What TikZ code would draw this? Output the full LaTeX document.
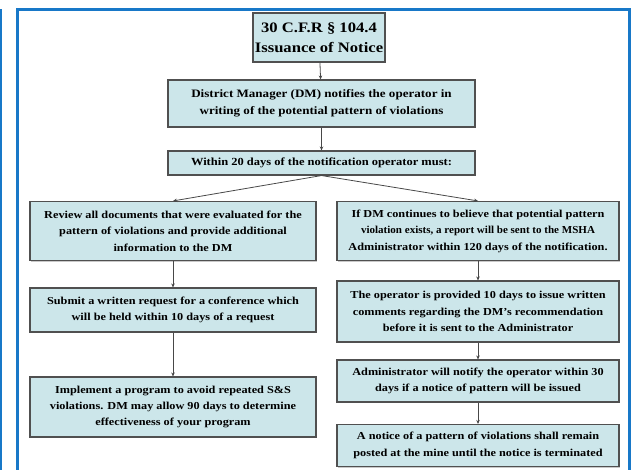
\documentclass[tikz,border=0pt]{standalone}
\usepackage{fontspec}
\usepackage{graphicx}
\setmainfont{Liberation Serif}[FakeStretch=1.15]
\usetikzlibrary{arrows.meta,shadows}
\definecolor{frameblue}{RGB}{24,120,200}
\definecolor{boxfill}{RGB}{204,230,234}
\definecolor{boxline}{RGB}{80,80,80}
\tikzset{
  box/.style={draw=boxline, line width=1.1pt, fill=boxfill, align=center, inner sep=0pt,
    font=\bfseries\fontsize{10.7}{16.5}\selectfont,
    drop shadow={shadow xshift=1.2pt, shadow yshift=-1.2pt, fill=gray!60, opacity=0.7}},
  conn/.style={draw=boxline!90!black, line width=0.8pt, -{Stealth[length=4pt,width=3.5pt]}}
}
\begin{document}
\begin{tikzpicture}[x=1bp,y=-1bp]
\useasboundingbox (0,0) rectangle (637,470);
\draw[frameblue, line width=3pt] (17.5,475) |- (629.5,9.5) -- (629.5,475);
\draw[frameblue, line width=3pt] (1,475) -- (1,9);
\node[box, line width=1.6pt, minimum width=132bp, minimum height=49bp,
  font=\bfseries\fontsize{14.5}{20}\selectfont] (n1) at (319,37.5)
  {30 C.F.R § 104.4\\Issuance of Notice};
\node[box, minimum width=307bp, minimum height=47bp,
  font=\bfseries\fontsize{11.4}{17}\selectfont] (n2) at (321.5,103.5)
  {District Manager (DM) notifies the operator in\\writing of the potential pattern of violations};
\node[box, minimum width=307bp, minimum height=24bp,
  font=\bfseries\fontsize{10.9}{16}\selectfont] (n3) at (321.5,163)
  {Within 20 days of the notification operator must:};
\node[box, minimum width=286bp, minimum height=59bp] (a) at (173,231)
  {Review all documents that were evaluated for the\\pattern of violations and provide additional\\information to the DM};
\node[box, minimum width=286bp, minimum height=44bp] (b) at (173,310)
  {Submit a written request for a conference which\\will be held within 10 days of a request};
\node[box, minimum width=286bp, minimum height=60bp] (c) at (173,407)
  {Implement a program to avoid repeated S\&S\\violations. DM may allow 90 days to determine\\effectiveness of your program};
\node[box, minimum width=282bp, minimum height=59bp] (d) at (478,231)
  {If DM continues to believe that potential pattern\\\scalebox{0.9}[1]{violation exists, a report will be sent to the MSHA}\\Administrator within 120 days of the notification.};
\node[box, minimum width=282bp, minimum height=61bp] (e) at (478,311.5)
  {The operator is provided 10 days to issue written\\comments regarding the DM's recommendation\\before it is sent to the Administrator};
\node[box, minimum width=282bp, minimum height=42bp] (f) at (478,381)
  {Administrator will notify the operator within 30\\days if a notice of pattern will be issued};
\node[box, minimum width=282bp, minimum height=42bp] (g) at (478,445.5)
  {A notice of a pattern of violations shall remain\\posted at the mine until the notice is terminated};
\draw[conn] (n1) -- (n2);
\draw[conn] (n2) -- (n3);
\draw[conn] (n3.south) -- (a.north);
\draw[conn] (n3.south) -- (d.north);
\draw[conn] (a) -- (b);
\draw[conn] (b) -- (c);
\draw[conn] (d) -- (e);
\draw[conn] (e) -- (f);
\draw[conn] (f) -- (g);
\end{tikzpicture}
\end{document}
